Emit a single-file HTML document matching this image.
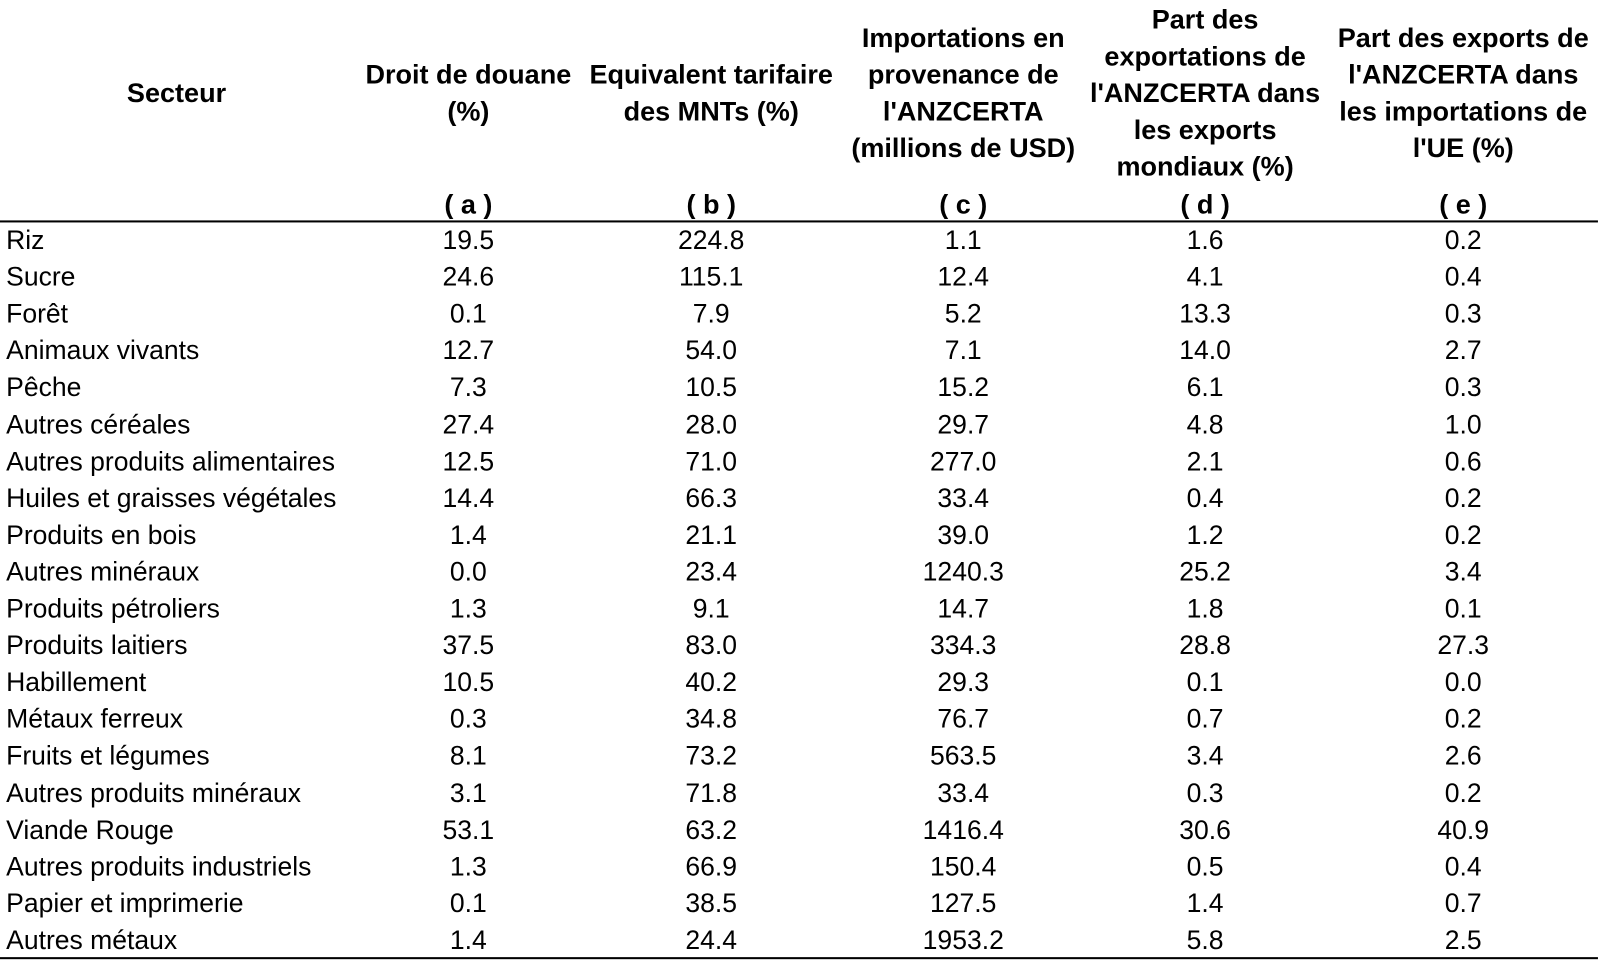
<!DOCTYPE html>
<html><head><meta charset="utf-8"><style>
html,body{margin:0;padding:0;background:#fff;}
body{width:1600px;height:960px;position:relative;overflow:hidden;font-family:"Liberation Sans",Arial,sans-serif;color:#000;font-size:26px;}
#w{position:absolute;left:0;top:0;width:1568px;height:941px;transform:scale(1.0204);transform-origin:0 0;}
.h{position:absolute;font-weight:bold;text-align:center;line-height:36px;width:260px;font-size:26.5px;}
.c{position:absolute;text-align:center;width:200px;line-height:36px;height:36px;}
.l{position:absolute;left:6px;line-height:36px;height:36px;}
.rule{position:absolute;left:0;width:1566px;height:2px;background:#000;}
</style></head><body><div id="w">
<div class="h" style="left:43px;top:73px;">Secteur</div>
<div class="h" style="left:329px;top:55px;">Droit de douane<br>(%)</div>
<div class="h" style="left:567px;top:55px;">Equivalent tarifaire<br>des MNTs (%)</div>
<div class="h" style="left:814px;top:19px;">Importations en<br>provenance de<br>l'ANZCERTA<br>(millions de USD)</div>
<div class="h" style="left:1051px;top:1px;">Part des<br>exportations de<br>l'ANZCERTA dans<br>les exports<br>mondiaux (%)</div>
<div class="h" style="left:1294px;top:19px;width:280px;">Part des exports de<br>l'ANZCERTA dans<br>les importations de<br>l'UE (%)</div>
<div class="h" style="left:329px;top:182px;">( a )</div>
<div class="h" style="left:567px;top:182px;">( b )</div>
<div class="h" style="left:814px;top:182px;">( c )</div>
<div class="h" style="left:1051px;top:182px;">( d )</div>
<div class="h" style="left:1304px;top:182px;">( e )</div>
<div class="rule" style="top:216px;"></div>
<div class="rule" style="top:938px;"></div>
<div id="rows"></div>
</div>
<script>
var d=[["Riz","19.5","224.8","1.1","1.6","0.2"],["Sucre","24.6","115.1","12.4","4.1","0.4"],["Forêt","0.1","7.9","5.2","13.3","0.3"],["Animaux vivants","12.7","54.0","7.1","14.0","2.7"],["Pêche","7.3","10.5","15.2","6.1","0.3"],["Autres céréales","27.4","28.0","29.7","4.8","1.0"],["Autres produits alimentaires","12.5","71.0","277.0","2.1","0.6"],["Huiles et graisses végétales","14.4","66.3","33.4","0.4","0.2"],["Produits en bois","1.4","21.1","39.0","1.2","0.2"],["Autres minéraux","0.0","23.4","1240.3","25.2","3.4"],["Produits pétroliers","1.3","9.1","14.7","1.8","0.1"],["Produits laitiers","37.5","83.0","334.3","28.8","27.3"],["Habillement","10.5","40.2","29.3","0.1","0.0"],["Métaux ferreux","0.3","34.8","76.7","0.7","0.2"],["Fruits et légumes","8.1","73.2","563.5","3.4","2.6"],["Autres produits minéraux","3.1","71.8","33.4","0.3","0.2"],["Viande Rouge","53.1","63.2","1416.4","30.6","40.9"],["Autres produits industriels","1.3","66.9","150.4","0.5","0.4"],["Papier et imprimerie","0.1","38.5","127.5","1.4","0.7"],["Autres métaux","1.4","24.4","1953.2","5.8","2.5"]];
var cx=[459,697,944,1181,1434],h="";
d.forEach(function(r,i){var t=(235+i*36.1-18).toFixed(1);
h+='<div class="l" style="top:'+t+'px">'+r[0]+'</div>';
for(var j=0;j<5;j++)h+='<div class="c" style="top:'+t+'px;left:'+(cx[j]-100)+'px">'+r[j+1]+'</div>';});
document.getElementById("rows").innerHTML=h;
</script>
</body></html>
